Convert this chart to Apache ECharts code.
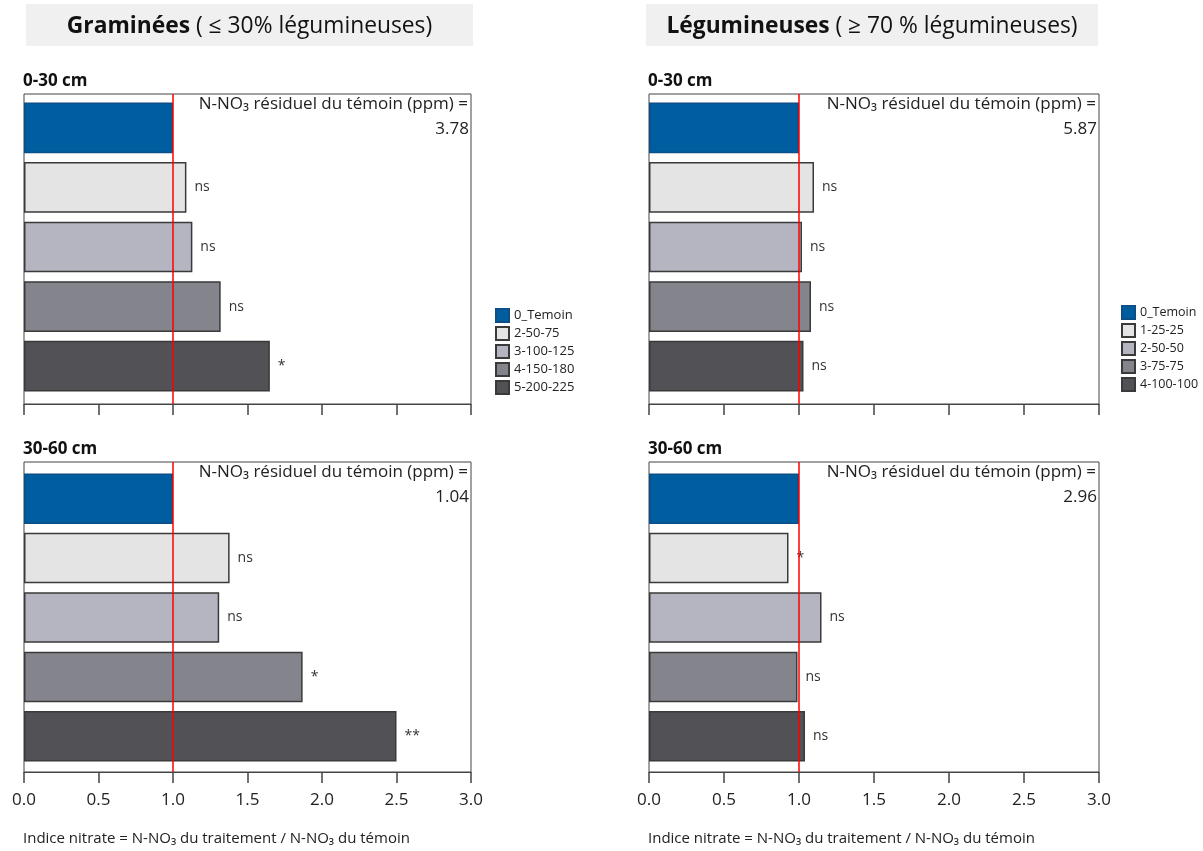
<!DOCTYPE html>
<html><head><meta charset="utf-8">
<script src="https://cdn.jsdelivr.net/npm/echarts@6/dist/echarts.min.js"></script>
<style>html,body{margin:0;padding:0;background:#fff}#c{width:1203px;height:851px}</style>
</head><body><div id="c"></div>
<script>
// ---- data ----
const gramCategories = ['0_Temoin', '2-50-75', '3-100-125', '4-150-180', '5-200-225'];
const legCategories = ['0_Temoin', '1-25-25', '2-50-50', '3-75-75', '4-100-100'];
const gram030 = [1.00, 1.09, 1.13, 1.32, 1.65];
const gram3060 = [1.00, 1.38, 1.31, 1.87, 2.50];
const leg030 = [1.00, 1.10, 1.02, 1.08, 1.03];
const leg3060 = [1.00, 0.93, 1.15, 0.99, 1.04];
const gram030Sig = ['', 'ns', 'ns', 'ns', '*'];
const gram3060Sig = ['', 'ns', 'ns', '*', '**'];
const leg030Sig = ['', 'ns', 'ns', 'ns', 'ns'];
const leg3060Sig = ['', '*', 'ns', 'ns', 'ns'];
const controlPpm = ['3.78', '1.04', '5.87', '2.96']; // gram 0-30, gram 30-60, leg 0-30, leg 30-60
const depthLabels = ['0-30 cm', '30-60 cm'];
const refValue = 1.0;
const xMin = 0, xMax = 3, xStep = 0.5;

// ---- styles ----
const FONT = '"Open Sans", Lato, sans-serif';
const colors = ['#005DA0', '#E4E4E4', '#B5B5C1', '#84848D', '#515156'];
const borders = ['#0B4F86', '#3a3a3a', '#3a3a3a', '#3a3a3a', '#3a3a3a'];

const panels = [
  {cats: gramCategories, vals: gram030, sig: gram030Sig, ppm: controlPpm[0], depth: depthLabels[0], left: 24, width: 447, frameTop: 94, barTop: 98, barH: 298, labels: false},
  {cats: gramCategories, vals: gram3060, sig: gram3060Sig, ppm: controlPpm[1], depth: depthLabels[1], left: 24, width: 447, frameTop: 462, barTop: 469, barH: 297, labels: true},
  {cats: legCategories, vals: leg030, sig: leg030Sig, ppm: controlPpm[2], depth: depthLabels[0], left: 649, width: 450, frameTop: 94, barTop: 98, barH: 298, labels: false},
  {cats: legCategories, vals: leg3060, sig: leg3060Sig, ppm: controlPpm[3], depth: depthLabels[1], left: 649, width: 450, frameTop: 462, barTop: 469, barH: 297, labels: true}
];

const grids = [], xAxes = [], yAxes = [], series = [], graphics = [];

panels.forEach((p, pi) => {
  const gf = pi * 2, gb = pi * 2 + 1;
  grids.push({left: p.left, top: p.frameTop, width: p.width, height: 310, show: true, borderColor: '#444', borderWidth: 1, backgroundColor: 'transparent'});
  grids.push({left: p.left, top: p.barTop, width: p.width, height: p.barH, show: false});
  xAxes.push({gridIndex: gf, type: 'value', min: xMin, max: xMax, interval: xStep,
    axisLine: {show: true, lineStyle: {color: '#444', width: 1.2}},
    axisTick: {show: true, length: 11, lineStyle: {color: '#444', width: 1.5}},
    splitLine: {show: false},
    axisLabel: {show: p.labels, margin: 20, fontSize: 17, color: '#222', fontFamily: FONT, formatter: v => v.toFixed(1)}});
  xAxes.push({gridIndex: gb, type: 'value', min: xMin, max: xMax, show: false, splitLine: {show: false}});
  yAxes.push({gridIndex: gf, type: 'value', min: 0, max: 1, show: false, splitLine: {show: false}});
  yAxes.push({gridIndex: gb, type: 'category', data: p.cats, inverse: true, show: false});
  p.cats.forEach((name, j) => {
    series.push({
      type: 'bar', name: name, xAxisIndex: gb, yAxisIndex: gb, stack: 'panel' + pi,
      barCategoryGap: '15%',
      data: p.vals.map((v, k) => k === j ? v : '-'),
      itemStyle: {color: colors[j], borderColor: borders[j], borderWidth: 1.5},
      label: {show: true, position: 'right', distance: 8, formatter: p.sig[j], fontSize: 14, color: '#333', fontFamily: FONT},
      z: 2, silent: true
    });
  });
  series.push({type: 'line', name: 'ref' + pi, xAxisIndex: gf, yAxisIndex: gf,
    data: [[refValue, 0], [refValue, 1]], symbol: 'none',
    lineStyle: {color: '#FF0000', width: 1.5}, z: 5, silent: true});

  // depth label
  graphics.push({type: 'text', left: p.left - 1, top: p.frameTop - 21,
    style: {text: p.depth, font: 'bold 17px ' + FONT, fill: '#111'}});
  // control ppm texts
  const rightX = p.left + p.width - 3;
  graphics.push({type: 'text', x: rightX, y: p.frameTop + 10,
    style: {text: 'N-NO\u2083 résiduel du témoin (ppm) =', font: '17px ' + FONT, fill: '#222', textAlign: 'right', textVerticalAlign: 'middle'}});
  graphics.push({type: 'text', x: rightX + 1, y: p.frameTop + 35,
    style: {text: p.ppm, font: '17px ' + FONT, fill: '#222', textAlign: 'right', textVerticalAlign: 'middle'}});
  if (p.labels) {
    graphics.push({type: 'text', x: p.left - 1, y: 839,
      style: {text: 'Indice nitrate = N-NO\u2083 du traitement / N-NO\u2083 du témoin', font: '15px ' + FONT, fill: '#222', textAlign: 'left', textVerticalAlign: 'middle'}});
  }
});

// headers
[{x: 26, w: 447, b: 'Graminées', t: ' ( \u2264 30% légumineuses)'},
 {x: 646, w: 452, b: 'Légumineuses', t: ' ( \u2265 70 % légumineuses)'}].forEach(h => {
  graphics.push({type: 'rect', shape: {x: h.x, y: 4, width: h.w, height: 42}, style: {fill: '#F0F0F0'}, z: 0});
  graphics.push({type: 'text', x: h.x + h.w / 2, y: 27, z: 1,
    style: {text: '{b|' + h.b + '}{n|' + h.t + '}', textAlign: 'center', textVerticalAlign: 'middle',
      rich: {b: {font: 'bold 22.8px ' + FONT, fill: '#111'}, n: {font: '22.8px ' + FONT, fill: '#111'}}}});
});

const legendCommon = {orient: 'vertical', itemWidth: 13, itemHeight: 13, itemGap: 3, icon: 'rect', selectedMode: false,
  textStyle: {fontSize: 13, color: '#222', fontFamily: FONT}};

const chart = echarts.init(document.getElementById('c'), null, {renderer: 'canvas'});
chart.setOption({
  animation: false,
  backgroundColor: '#fff',
  textStyle: {fontFamily: FONT},
  grid: grids, xAxis: xAxes, yAxis: yAxes, series: series,
  legend: [
    Object.assign({}, legendCommon, {left: 490, top: 303, data: gramCategories}),
    Object.assign({}, legendCommon, {left: 1116, top: 300, data: legCategories, textStyle: {fontSize: 12.5, color: '#222', fontFamily: FONT}})
  ],
  graphic: graphics
});
</script></body></html>
